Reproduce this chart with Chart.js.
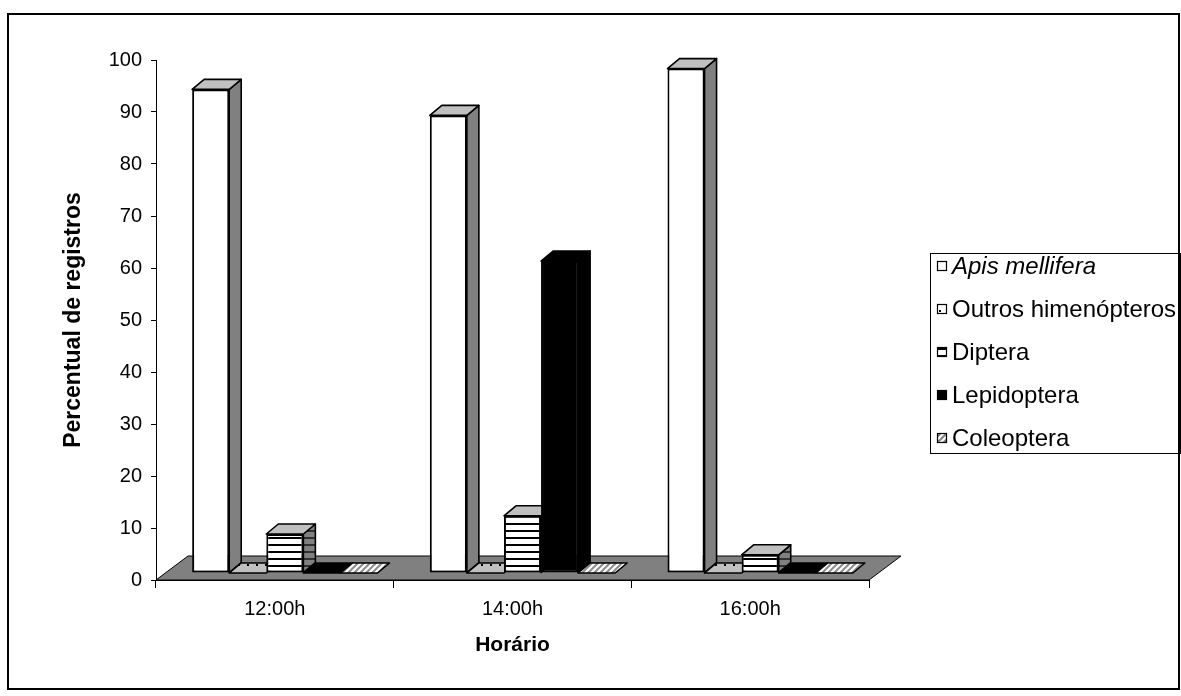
<!DOCTYPE html>
<html>
<head>
<meta charset="utf-8">
<script src="https://cdn.jsdelivr.net/npm/chart.js@4.4.1/dist/chart.umd.min.js"></script>
<style>
  html, body { margin: 0; padding: 0; background: #fff; }
  canvas { display: block; }
</style>
</head>
<body>
<canvas id="chart" width="1181" height="696"></canvas>
<script>
// Categories, series and tick labels
const horarios = ['12:00h', '14:00h', '16:00h'];
const seriesNames = ['Apis mellifera', 'Outros himenópteros', 'Diptera', 'Lepidoptera', 'Coleoptera'];
const apisMellifera = [93, 88, 97];
const outrosHimenopteros = [0, 0, 0];
const diptera = [7.5, 11, 3.5];
const lepidoptera = [0, 60, 0];
const coleoptera = [0, 0, 0];
const yTicks = [0, 10, 20, 30, 40, 50, 60, 70, 80, 90, 100];

const FONT = '"Liberation Sans", Arial, sans-serif';
const canvas = document.getElementById('chart');
const ctx0 = canvas.getContext('2d');

// Small repeating tiles used as fills
function tile(w, h, bg, paint) {
  const c = document.createElement('canvas');
  c.width = w; c.height = h;
  const g = c.getContext('2d');
  g.fillStyle = bg; g.fillRect(0, 0, w, h);
  if (paint) paint(g);
  return ctx0.createPattern(c, 'repeat');
}
const dots = (bg) => tile(9, 9, bg, g => { g.fillStyle = '#000'; g.fillRect(3, 4, 2, 2); });
const hlines = (bg, fg) => tile(4, 7, bg, g => { g.fillStyle = fg; g.fillRect(0, 5, 4, 2); });
const hatch = (bg, fg) => tile(6, 6, bg, g => {
  g.strokeStyle = fg; g.lineWidth = 2; g.beginPath();
  g.moveTo(-1, 7); g.lineTo(7, -1);
  g.moveTo(5, 7); g.lineTo(7, 5);
  g.moveTo(-1, 1); g.lineTo(1, -1);
  g.stroke();
});

// Front / top / side faces for each series
const faces = [
  { front: '#ffffff', top: '#c0c0c0', side: '#808080' },
  { front: dots('#ffffff'), top: dots('#c0c0c0'), side: dots('#808080') },
  { front: hlines('#ffffff', '#000000'), top: '#c0c0c0', side: hlines('#808080', '#303030') },
  { front: '#000000', top: '#000000', side: '#000000' },
  { front: hatch('#ffffff', '#808080'), top: hatch('#ffffff', '#8c8c8c'), side: hatch('#808080', '#404040') }
];
const seriesData = [apisMellifera, outrosHimenopteros, diptera, lepidoptera, coleoptera];

// 3D projection offsets
const depth = { x: 12, y: -10 };        // depth of one bar
const rowShift = { x: 10, y: -7 };      // bar row sits behind the axis plane
const floorDepth = { x: 32, y: -24 };   // depth of the floor

function poly(ctx, pts, fill) {
  ctx.beginPath();
  ctx.moveTo(pts[0][0], pts[0][1]);
  for (let k = 1; k < pts.length; k++) ctx.lineTo(pts[k][0], pts[k][1]);
  ctx.closePath();
  ctx.fillStyle = fill; ctx.fill();
  ctx.stroke();
}

const bars3d = {
  id: 'bars3d',
  beforeDatasetsDraw(chart) {
    const { ctx, scales: { x, y } } = chart;
    const y0 = y.getPixelForValue(0);
    ctx.save();
    ctx.strokeStyle = '#000'; ctx.lineWidth = 1; ctx.lineJoin = 'miter';
    poly(ctx, [[x.left, y0], [x.right, y0], [x.right + floorDepth.x, y0 + floorDepth.y], [x.left + floorDepth.x, y0 + floorDepth.y]], '#808080');
    ctx.restore();

    ctx.save();
    ctx.translate(rowShift.x, rowShift.y);
    ctx.strokeStyle = '#000'; ctx.lineWidth = 1.6; ctx.lineJoin = 'round';
    const n = chart.data.labels.length;
    for (let i = 0; i < n; i++) {
      chart.data.datasets.forEach((ds, j) => {
        const el = chart.getDatasetMeta(j).data[i];
        const p = el.getProps(['x', 'y', 'base', 'width'], true);
        const l = p.x - p.width / 2, r = p.x + p.width / 2;
        const t = p.y, b = p.base;
        if (b - t > 0.5) {
          poly(ctx, [[r, b], [r, t], [r + depth.x, t + depth.y], [r + depth.x, b + depth.y]], faces[j].side);
        }
        poly(ctx, [[l, t], [r, t], [r + depth.x, t + depth.y], [l + depth.x, t + depth.y]], faces[j].top);
      });
    }
    // the translation stays active while Chart.js draws the front faces
  },
  afterDatasetsDraw(chart) {
    chart.ctx.restore();
  }
};

const legendBox = {
  id: 'legendBox',
  afterDraw(chart) {
    const ctx = chart.ctx;
    ctx.save();
    ctx.strokeStyle = '#000'; ctx.lineWidth = 1;
    ctx.strokeRect(930.5, 253.5, 250, 200);
    seriesNames.forEach((name, j) => {
      const cy = 266 + j * 43;
      ctx.fillStyle = faces[j].front;
      ctx.fillRect(937, cy - 5, 10, 10);
      ctx.lineWidth = 1.2; ctx.strokeStyle = '#000';
      ctx.strokeRect(937.5, cy - 4.5, 9, 9);
      ctx.fillStyle = '#000';
      ctx.font = (j === 0 ? 'italic ' : '') + '24px ' + FONT;
      ctx.textBaseline = 'middle'; ctx.textAlign = 'left';
      ctx.fillText(name, 952, cy + 1);
    });
    // outer frame
    ctx.lineWidth = 2;
    ctx.strokeRect(8, 14, 1171, 675);
    ctx.restore();
  }
};

new Chart(canvas, {
  type: 'bar',
  data: {
    labels: horarios,
    datasets: seriesNames.map((name, j) => ({
      label: name,
      data: seriesData[j],
      backgroundColor: faces[j].front,
      borderColor: '#000',
      borderWidth: 2,
      borderSkipped: false,
      clip: false,
      categoryPercentage: 0.78,
      barPercentage: 1.0
    }))
  },
  options: {
    responsive: false,
    animation: false,
    events: [],
    layout: { padding: { top: 60, right: 312, bottom: 0, left: 0 } },
    plugins: { legend: { display: false }, tooltip: { enabled: false } },
    scales: {
      x: {
        offset: true,
        grid: { offset: true, drawOnChartArea: false, drawTicks: true, tickLength: 8, color: '#000' },
        border: { display: true, color: '#000', width: 1 },
        ticks: { color: '#000', font: { family: FONT, size: 20 }, padding: 9 },
        title: { display: true, text: 'Horário', color: '#000', font: { family: FONT, size: 21, weight: 'bold' }, padding: { top: 0, bottom: 38 } },
        afterFit(scale) { scale.height = 116; }
      },
      y: {
        min: 0, max: 100,
        afterBuildTicks(scale) { scale.ticks = yTicks.map(v => ({ value: v })); },
        grid: { drawOnChartArea: false, drawTicks: true, tickLength: 5, color: '#000' },
        border: { display: true, color: '#000', width: 1 },
        ticks: { color: '#000', font: { family: FONT, size: 20 }, padding: 9 },
        title: { display: true, text: 'Percentual de registros', color: '#000', font: { family: FONT, size: 23, weight: 'bold' }, padding: { top: 60, bottom: 0 } },
        afterFit(scale) { scale.width = 156; }
      }
    }
  },
  plugins: [bars3d, legendBox]
});
</script>
</body>
</html>
